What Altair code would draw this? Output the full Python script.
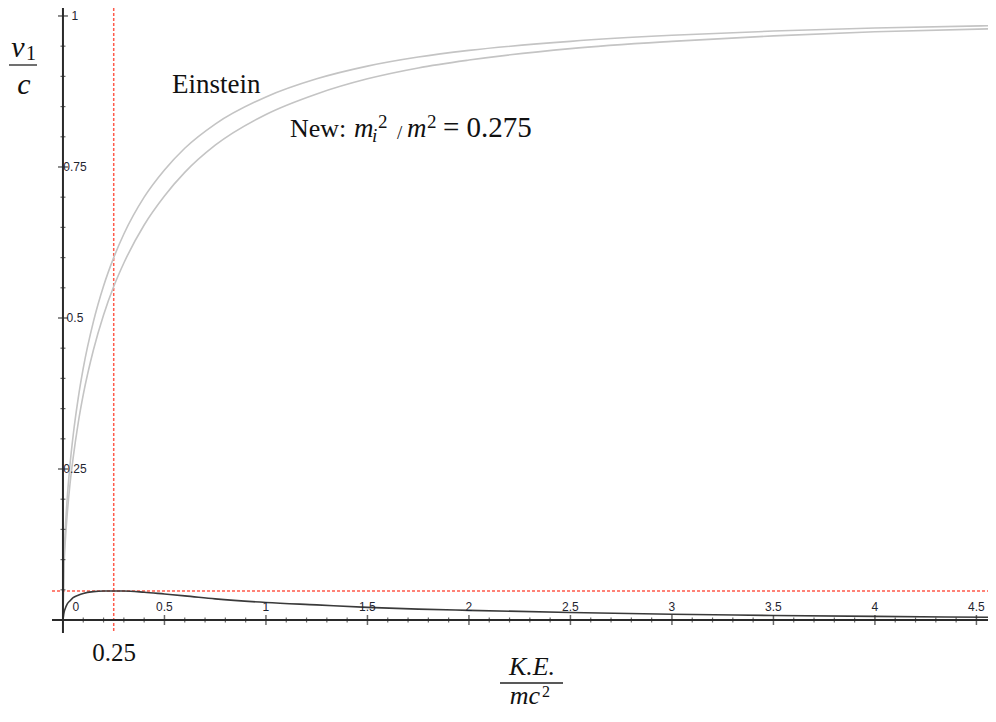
import altair as alt
import pandas as pd

# ---- data ----
ke = [0, 0.005, 0.01, 0.02, 0.035, 0.05, 0.075, 0.1, 0.15, 0.2, 0.25, 0.3, 0.4,
      0.5, 0.6, 0.75, 1.0, 1.25, 1.5, 1.75, 2.0, 2.5, 3.0, 3.5, 4.0, 4.6]
einstein = [0, 0.100, 0.140, 0.197, 0.258, 0.305, 0.367, 0.417, 0.494, 0.553, 0.600,
            0.639, 0.700, 0.745, 0.781, 0.821, 0.866, 0.896, 0.917, 0.932, 0.943,
            0.958, 0.968, 0.975, 0.980, 0.984]
new_model = [0, 0.088, 0.122, 0.171, 0.226, 0.268, 0.326, 0.373, 0.447, 0.505, 0.552,
             0.591, 0.654, 0.702, 0.741, 0.786, 0.837, 0.871, 0.896, 0.914, 0.927,
             0.946, 0.958, 0.967, 0.974, 0.979]
difference = [0, 0.012, 0.018, 0.026, 0.032, 0.037, 0.041, 0.044, 0.047, 0.048, 0.048,
              0.048, 0.046, 0.043, 0.040, 0.035, 0.029, 0.025, 0.021, 0.018, 0.016,
              0.0125, 0.0095, 0.0075, 0.006, 0.0045]

x_major = [0.5, 1, 1.5, 2, 2.5, 3, 3.5, 4, 4.5]
x_major_labels = ["0.5", "1", "1.5", "2", "2.5", "3", "3.5", "4", "4.5"]
x_minor = [round(i * 0.1, 1) for i in range(1, 46) if i % 5 != 0]
y_major = [0.25, 0.5, 0.75, 1]
y_major_labels = ["0.25", "0.5", "0.75", "1"]
y_minor = [round(i * 0.05, 2) for i in range(1, 20) if i % 5 != 0]
peak_ke = 0.25
peak_v = 0.048

# ---- layout ----
W, H = 936, 625
X_DOMAIN = [-0.054, 4.557]
Y_DOMAIN = [-0.0215, 1.0132]
xs = alt.Scale(domain=X_DOMAIN, nice=False, zero=False)
ys = alt.Scale(domain=Y_DOMAIN, nice=False, zero=False)
AX = "#2a2a2a"
RED = "#ff5a4a"
SERIF = "Liberation Serif"
SANS = "Liberation Sans"

curves = pd.DataFrame({"K": ke, "E": einstein, "N": new_model, "D": difference})
X = alt.X("K:Q", scale=xs, axis=None)


def curve(field, color, width):
    return alt.Chart(curves).mark_line(
        color=color, strokeWidth=width, interpolate="monotone", clip=True
    ).encode(x=X, y=alt.Y(f"{field}:Q", scale=ys, axis=None))


zero_df = pd.DataFrame({"z": [0]})

x_axis = alt.Chart(zero_df).mark_rule(color=AX, strokeWidth=2).encode(
    x=alt.value(0), x2=alt.value(W), y=alt.Y("z:Q", scale=ys, axis=None))
y_axis = alt.Chart(zero_df).mark_rule(color=AX, strokeWidth=2).encode(
    y=alt.value(0), y2=alt.value(H), x=alt.X("z:Q", scale=xs, axis=None))

red_v = alt.Chart(pd.DataFrame({"K": [peak_ke]})).mark_rule(
    color=RED, strokeWidth=1.5, strokeDash=[3, 2]).encode(
    x=X, y=alt.value(0), y2=alt.value(H))
red_h = alt.Chart(pd.DataFrame({"v": [peak_v]})).mark_rule(
    color=RED, strokeWidth=1.4, strokeDash=[3, 2]).encode(
    y=alt.Y("v:Q", scale=ys, axis=None), x=alt.value(0), x2=alt.value(W))

xmaj = pd.DataFrame({"K": x_major, "lab": x_major_labels, "z": 0})
xmin = pd.DataFrame({"K": x_minor, "z": 0})
ymaj = pd.DataFrame({"v": y_major, "lab": y_major_labels, "z": 0})
ymin = pd.DataFrame({"v": y_minor, "z": 0})

Yz = alt.Y("z:Q", scale=ys, axis=None)
Xz = alt.X("z:Q", scale=xs, axis=None)
Yv = alt.Y("v:Q", scale=ys, axis=None)

x_major_ticks = alt.Chart(xmaj).mark_tick(orient="vertical", size=10, thickness=1.5,
                                          color=AX).encode(x=X, y=Yz)
x_minor_ticks = alt.Chart(xmin).mark_tick(orient="vertical", size=5, thickness=1.2,
                                          color=AX).encode(x=X, y=Yz)
y_major_ticks = alt.Chart(ymaj).mark_tick(orient="horizontal", size=10, thickness=1.5,
                                          color=AX).encode(x=Xz, y=Yv)
y_minor_ticks = alt.Chart(ymin).mark_tick(orient="horizontal", size=5, thickness=1.2,
                                          color=AX).encode(x=Xz, y=Yv)

tick_style = dict(font=SANS, fontSize=12, color="#1f2530")
x_labels = alt.Chart(xmaj).mark_text(dy=-13, align="center", baseline="middle",
                                     **tick_style).encode(x=X, y=Yz, text="lab:N")
x_zero_label = alt.Chart(pd.DataFrame({"K": [0], "z": [0], "lab": ["0"]})).mark_text(
    dx=13, dy=-13, align="center", baseline="middle", **tick_style).encode(
    x=X, y=Yz, text="lab:N")
y_labels = alt.Chart(ymaj).mark_text(dx=12, align="center", baseline="middle",
                                     **tick_style).encode(x=Xz, y=Yv, text="lab:N")


def annot(text, x, y, size, italic=False, align="left", baseline="alphabetic",
          font=SERIF):
    return alt.Chart(pd.DataFrame({"t": [text]})).mark_text(
        font=font, fontSize=size, fontStyle="italic" if italic else "normal",
        align=align, baseline=baseline, color="#111111").encode(
        x=alt.value(x), y=alt.value(y), text="t:N")


def bar(x1, x2, y):
    return alt.Chart(zero_df).mark_rule(color="#222222", strokeWidth=1.3).encode(
        x=alt.value(x1), x2=alt.value(x2), y=alt.value(y))


OX, OY = 52, 8  # page position of plot origin
texts = [
    annot("Einstein", 172 - OX, 93 - OY, 27),
    annot("New:", 290 - OX, 137 - OY, 26),
    annot("m", 354 - OX, 137 - OY, 27, italic=True),
    annot("i", 372 - OX, 142 - OY, 19, italic=True),
    annot("2", 378 - OX, 128 - OY, 19),
    annot("/", 397 - OX, 139 - OY, 19),
    annot("m", 407 - OX, 137 - OY, 27, italic=True),
    annot("2", 427 - OX, 128 - OY, 19),
    annot("= 0.275", 443 - OX, 137 - OY, 29),
    annot("0.25", 114 - OX, 661 - OY, 25, align="center"),
    # v1 / c
    annot("v", 18 - OX, 57 - OY, 30, italic=True, align="center"),
    annot("1", 31 - OX, 60 - OY, 20, align="center"),
    bar(9 - OX, 37 - OX, 65 - OY),
    annot("c", 24 - OX, 94 - OY, 30, italic=True, align="center"),
    # K.E. / mc^2
    annot("K.E.", 532 - OX, 675 - OY, 26, italic=True, align="center"),
    bar(500 - OX, 563 - OX, 683 - OY),
    annot("mc", 525 - OX, 704 - OY, 26, italic=True, align="center"),
    annot("2", 542 - OX, 697 - OY, 16),
]

chart = alt.layer(
    red_v, red_h,
    curve("E", "#c4c4c4", 1.6), curve("N", "#c4c4c4", 1.6), curve("D", "#3a3a3a", 1.6),
    x_axis, y_axis, x_major_ticks, x_minor_ticks, y_major_ticks, y_minor_ticks,
    x_labels, x_zero_label, y_labels, *texts,
).properties(
    width=W, height=H,
    padding={"left": 44, "top": 0, "right": 0, "bottom": 80},
    autosize=alt.AutoSizeParams(type="none"),
    background="white",
).configure_view(stroke=None)

chart.save("out.html", embed_options={"renderer": "svg", "actions": False})
